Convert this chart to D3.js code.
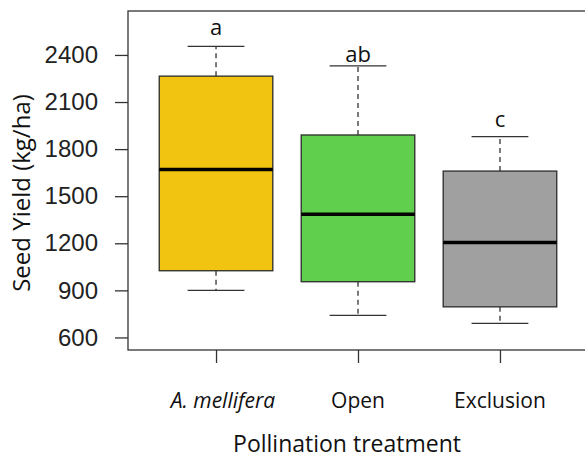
<!DOCTYPE html>
<html lang="en">
<head>
<meta charset="UTF-8">
<script src="https://d3js.org/d3.v7.min.js"></script>
<style>
  body { margin: 0; background: #fff; }
  svg { display: block; }
</style>
</head>
<body>
<svg id="chart" width="585" height="461"></svg>
<script>
// data
const groups = ["A. mellifera", "Open", "Exclusion"];
const whiskerLow = [900, 740, 690];
const q1 = [1025, 955, 795];
const medians = [1670, 1385, 1205];
const q3 = [2265, 1890, 1660];
const whiskerHigh = [2455, 2330, 1880];
const letters = ["a", "ab", "c"];
const letterAt = [2527, 2357, 1943]; // kg/ha level of each letter's baseline
const colors = ["#f2c412", "#5fcf4d", "#a0a0a0"];
const yTicks = [600, 900, 1200, 1500, 1800, 2100, 2400];

const svg = d3.select("#chart");
const plotLeft = 128, plotRight = 588, plotTop = 11, plotBottom = 350;

// R style x range: positions 1..n, padded 0.5 then 4%
const x = d3.scaleLinear().domain([0.38, 3.62]).range([plotLeft, plotRight]);
const y = d3.scaleLinear().domain([520, 2680]).range([plotBottom, plotTop]);
const step = x(2) - x(1);
const boxW = step * 0.8;

// frame
svg.append("rect")
    .attr("x", plotLeft).attr("y", plotTop)
    .attr("width", plotRight - plotLeft).attr("height", plotBottom - plotTop)
    .attr("fill", "none").attr("stroke", "#333").attr("stroke-width", 1.3);

// y axis
const yAxis = svg.append("g")
    .attr("transform", `translate(${plotLeft},0)`)
    .call(d3.axisLeft(y).tickValues(yTicks).tickSize(13).tickPadding(17).tickFormat(d3.format("d")));
yAxis.select(".domain").remove();
yAxis.selectAll("line").attr("stroke", "#333").attr("stroke-width", 1.3);
yAxis.selectAll("text")
    .attr("font-family", "Liberation Sans, Arial, sans-serif")
    .attr("font-size", 24).attr("fill", "#222");

// x axis
const xAxis = svg.append("g")
    .attr("transform", `translate(0,${plotBottom})`)
    .call(d3.axisBottom(x).tickValues([1, 2, 3]).tickSize(13).tickFormat(""));
xAxis.select(".domain").remove();
xAxis.selectAll("line").attr("stroke", "#333").attr("stroke-width", 1.3);

svg.selectAll(".xlab")
    .data(groups)
    .enter().append("text")
    .attr("class", "xlab")
    .attr("x", (d, i) => x(i + 1) + (i === 0 ? 7 : 0))
    .attr("y", 408)
    .attr("text-anchor", "middle")
    .attr("font-family", "Open Sans, sans-serif")
    .attr("font-size", 21)
    .attr("font-style", (d, i) => i === 0 ? "italic" : "normal")
    .attr("fill", "#111")
    .text(d => d);

// boxes
const g = svg.selectAll(".box")
    .data(groups)
    .enter().append("g")
    .attr("class", "box");

g.append("line")
    .attr("x1", (d, i) => x(i + 1)).attr("x2", (d, i) => x(i + 1))
    .attr("y1", (d, i) => y(q3[i])).attr("y2", (d, i) => y(whiskerHigh[i]))
    .attr("stroke", "#333").attr("stroke-width", 1.3).attr("stroke-dasharray", "5,4");
g.append("line")
    .attr("x1", (d, i) => x(i + 1)).attr("x2", (d, i) => x(i + 1))
    .attr("y1", (d, i) => y(q1[i])).attr("y2", (d, i) => y(whiskerLow[i]))
    .attr("stroke", "#333").attr("stroke-width", 1.3).attr("stroke-dasharray", "5,4");

g.append("line")
    .attr("x1", (d, i) => x(i + 1) - boxW / 4).attr("x2", (d, i) => x(i + 1) + boxW / 4)
    .attr("y1", (d, i) => y(whiskerHigh[i])).attr("y2", (d, i) => y(whiskerHigh[i]))
    .attr("stroke", "#333").attr("stroke-width", 1.3);
g.append("line")
    .attr("x1", (d, i) => x(i + 1) - boxW / 4).attr("x2", (d, i) => x(i + 1) + boxW / 4)
    .attr("y1", (d, i) => y(whiskerLow[i])).attr("y2", (d, i) => y(whiskerLow[i]))
    .attr("stroke", "#333").attr("stroke-width", 1.3);

g.append("rect")
    .attr("x", (d, i) => x(i + 1) - boxW / 2)
    .attr("y", (d, i) => y(q3[i]))
    .attr("width", boxW)
    .attr("height", (d, i) => y(q1[i]) - y(q3[i]))
    .attr("fill", (d, i) => colors[i])
    .attr("stroke", "#2a2a2a").attr("stroke-width", 1.3);

g.append("line")
    .attr("x1", (d, i) => x(i + 1) - boxW / 2).attr("x2", (d, i) => x(i + 1) + boxW / 2)
    .attr("y1", (d, i) => y(medians[i])).attr("y2", (d, i) => y(medians[i]))
    .attr("stroke", "#000").attr("stroke-width", 3.5);

g.append("text")
    .attr("x", (d, i) => x(i + 1))
    .attr("y", (d, i) => y(letterAt[i]))
    .attr("text-anchor", "middle")
    .attr("font-family", "Open Sans, sans-serif")
    .attr("font-size", 22)
    .attr("fill", "#111")
    .text((d, i) => letters[i]);

// axis titles
svg.append("text")
    .attr("x", 347).attr("y", 452)
    .attr("text-anchor", "middle")
    .attr("font-family", "Open Sans, sans-serif")
    .attr("font-size", 23)
    .attr("fill", "#111")
    .text("Pollination treatment");

svg.append("text")
    .attr("transform", "translate(30,193) rotate(-90)")
    .attr("text-anchor", "middle")
    .attr("font-family", "Open Sans, sans-serif")
    .attr("font-size", 24)
    .attr("fill", "#111")
    .text("Seed Yield (kg/ha)");
</script>
</body>
</html>
